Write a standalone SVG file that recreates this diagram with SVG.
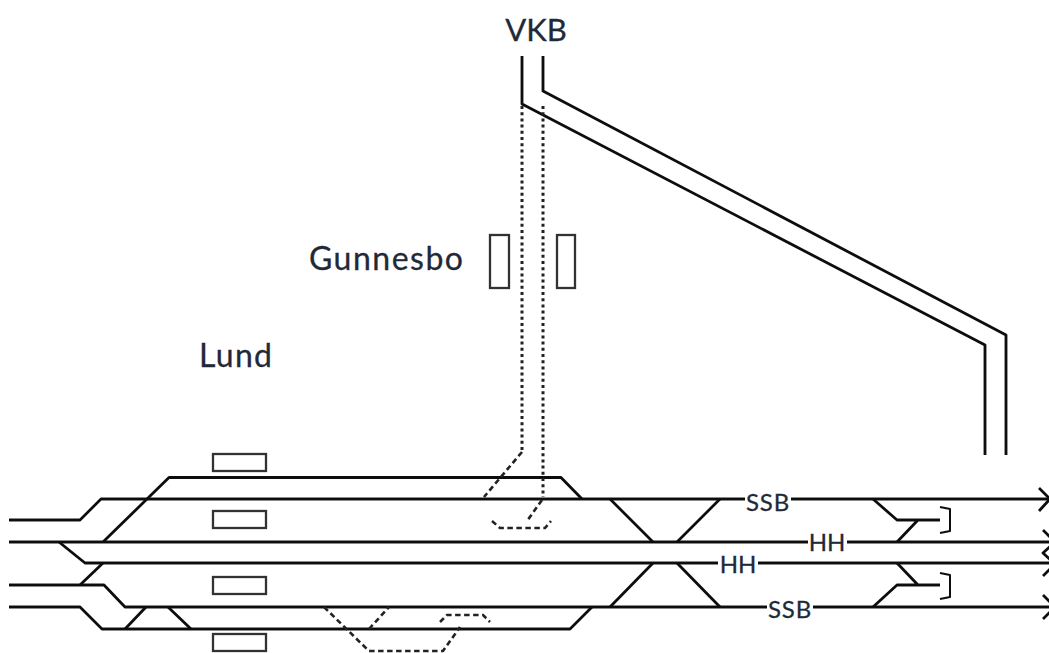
<svg xmlns="http://www.w3.org/2000/svg" width="1049" height="653" viewBox="0 0 1049 653">
<defs><filter id="soft" x="-5%" y="-5%" width="110%" height="110%" filterUnits="userSpaceOnUse" primitiveUnits="userSpaceOnUse"><feGaussianBlur stdDeviation="0.5"/></filter></defs>
<style>
.t{fill:none;stroke:#111;stroke-width:2.8;stroke-linejoin:round}
.d{fill:none;stroke:#222;stroke-width:2.6;stroke-dasharray:5.500 3.500}
.o{fill:none;stroke:#222;stroke-width:3;stroke-dasharray:3 3.200}
.p{fill:#fff;stroke:#333;stroke-width:2.300}
.soft{filter:url(#soft)}
text{font-family:"Lato","Open Sans",sans-serif;fill:#1f2a38;stroke:#1f2a38;stroke-width:.3}
.l{font-size:32px}
.s{font-size:24px;text-anchor:middle}
.b{fill:#fff;stroke:none}
</style>
<g id="connectors" class="soft">
<path class="t" d="M522 56V104L985 345V455"/>
<path class="t" d="M543 56V91L1006 335V455"/>
<path class="t" d="M9 520H80L101 499H1049"/>
<path class="t" d="M9 542H1052"/>
<path class="t" d="M59 542L85 563H1052"/>
<path class="t" d="M103 542L169 477.500H561L582 499"/>
<path class="t" d="M9 585H104L125 607H1052"/>
<path class="t" d="M80 585L103 563"/>
<path class="t" d="M9 607H80L102 629H570L592 607"/>
<path class="t" d="M125 629L146 607M168 607L191 629"/>
<path class="t" d="M610 499L653 542M677 542L720 499M653 563L610 607M677 563L720 607"/>
<path class="t" d="M873 499L897 520H940M897 542L918 520"/>
<path class="t" d="M897 563L918 585M873 607L897 585H940"/>
<path class="t" style="stroke-width:2" d="M940 507L950 509V531L940 533M940 573L950 575V597L940 599"/>
<path class="t" d="M1039 488L1050 499L1039 511M1043 530L1055 542L1043 553L1055 564L1043 576M1043 595L1055 607L1043 619"/>
<path class="o" d="M522 106V450"/>
<path class="o" d="M543 106V497"/>
<path class="d" d="M522 452L484 497"/>
<path class="d" d="M542 500L527 521"/>
<path class="d" d="M492 521L500 528H545L551 521"/>
<path class="d" d="M324 607L369 651H443L460 627"/>
<path class="d" d="M369 629L389 607"/>
<path class="d" d="M440 622L447 615H483L490 622"/>
</g>
<g id="platform-1" class="soft"><rect class="p" x="213" y="454" width="53" height="17"/></g>
<g id="platform-2" class="soft"><rect class="p" x="213" y="511" width="53" height="17"/></g>
<g id="platform-3" class="soft"><rect class="p" x="213" y="577" width="53" height="17"/></g>
<g id="platform-4" class="soft"><rect class="p" x="213" y="634" width="53" height="17"/></g>
<g id="gunnesbo-platform-1" class="soft"><rect class="p" x="490" y="235" width="19" height="53"/></g>
<g id="gunnesbo-platform-2" class="soft"><rect class="p" x="557" y="235" width="18" height="53"/></g>
<g id="label-vkb"><text class="l" x="536" y="41" text-anchor="middle" style="font-size:31px">VKB</text></g>
<g id="label-gunnesbo"><text class="l" x="309" y="270" letter-spacing="1.500">Gunnesbo</text></g>
<g id="label-lund"><text class="l" x="199" y="367" letter-spacing="1.300">Lund</text></g>
<g id="label-ssb-top"><rect class="b" x="745" y="490" width="46" height="20"/><text class="s" x="768" y="511" letter-spacing=".8">SSB</text></g>
<g id="label-hh-top"><rect class="b" x="808" y="532" width="39" height="20"/><text class="s" x="827" y="551">HH</text></g>
<g id="label-hh-bottom"><rect class="b" x="718" y="554" width="40" height="20"/><text class="s" x="738" y="573">HH</text></g>
<g id="label-ssb-bottom"><rect class="b" x="767" y="597" width="46" height="20"/><text class="s" x="790" y="618" letter-spacing=".8">SSB</text></g>
</svg>
